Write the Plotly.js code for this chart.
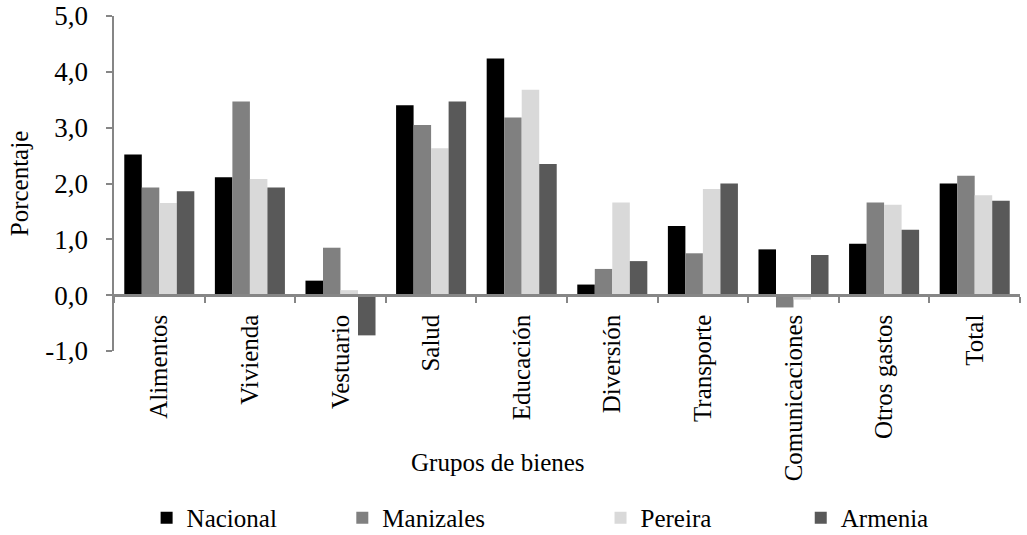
<!DOCTYPE html>
<html>
<head>
<meta charset="utf-8">
<script src="https://cdn.plot.ly/plotly-3.0.1.min.js"></script>
<style>html,body{margin:0;padding:0;background:#fff;}#chart{width:1027px;height:535px;}</style>
</head>
<body>
<div id="chart"></div>
<script>
const categories = ["Alimentos", "Vivienda", "Vestuario", "Salud", "Educación", "Diversión", "Transporte", "Comunicaciones", "Otros gastos", "Total"];
const nacional   = [2.52, 2.11, 0.26, 3.40, 4.24, 0.19, 1.24, 0.82, 0.92, 2.00];
const manizales  = [1.93, 3.47, 0.85, 3.05, 3.18, 0.47, 0.75, -0.22, 1.66, 2.14];
const pereira    = [1.65, 2.08, 0.09, 2.63, 3.68, 1.66, 1.90, -0.08, 1.62, 1.79];
const armenia    = [1.86, 1.93, -0.72, 3.47, 2.35, 0.61, 2.00, 0.72, 1.17, 1.69];
const seriesNames = ["Nacional", "Manizales", "Pereira", "Armenia"];
const yTickValues = [-1, 0, 1, 2, 3, 4, 5];
const yTickLabels = ["-1,0", "0,0", "1,0", "2,0", "3,0", "4,0", "5,0"];

const FONT = "Liberation Serif, Times New Roman, serif";
const colors = ["#000000", "#808080", "#d9d9d9", "#595959"];
const seriesValues = [nacional, manizales, pereira, armenia];
const legendIds = ["legend", "legend2", "legend3", "legend4"];
const legendX = [0.036, 0.252, 0.537, 0.758];

const traces = seriesValues.map((vals, i) => ({
  type: "bar",
  name: seriesNames[i],
  x: categories,
  y: vals,
  marker: {color: colors[i], line: {width: 0}},
  legend: legendIds[i],
  hoverinfo: "x+y+name"
}));

const layout = {
  width: 1027,
  height: 535,
  margin: {l: 114, r: 7, t: 16, b: 184, autoexpand: false},
  paper_bgcolor: "#ffffff",
  plot_bgcolor: "#ffffff",
  font: {family: FONT, color: "#000000", size: 24},
  barmode: "group",
  bargap: 0.227,
  bargroupgap: 0,
  xaxis: {
    type: "category",
    anchor: "free",
    position: 1/6,
    showline: true,
    linecolor: "#868686",
    linewidth: 2.5,
    ticks: "outside",
    tickson: "boundaries",
    ticklen: 6,
    tickwidth: 2,
    tickcolor: "#868686",
    tickangle: -90,
    tickfont: {family: FONT, size: 25, color: "#000000"},
    ticklabelstandoff: 8,
    showgrid: false,
    zeroline: false,
    automargin: false
  },
  yaxis: {
    range: [-1, 5],
    domain: [0, 1],
    tickvals: yTickValues,
    ticktext: yTickLabels,
    showline: true,
    linecolor: "#868686",
    linewidth: 2.5,
    ticks: "outside",
    ticklen: 6,
    tickwidth: 2,
    tickcolor: "#868686",
    tickfont: {family: FONT, size: 27, color: "#000000"},
    ticklabelstandoff: 12,
    showgrid: false,
    zeroline: false,
    automargin: false,
    title: {text: "Porcentaje", font: {family: FONT, size: 25, color: "#000000"}, standoff: 10}
  },
  annotations: [{
    text: "Grupos de bienes",
    xref: "paper", yref: "paper",
    x: 0.4233, y: -0.334,
    xanchor: "center", yanchor: "middle",
    showarrow: false,
    font: {family: FONT, size: 25, color: "#000000"}
  }],
  showlegend: true
};

legendIds.forEach((id, i) => {
  layout[id] = {
    orientation: "h",
    x: legendX[i],
    xanchor: "left",
    y: -0.4985,
    yanchor: "middle",
    bgcolor: "rgba(0,0,0,0)",
    borderwidth: 0,
    font: {family: FONT, size: 25, color: "#000000"}
  };
});

Plotly.newPlot("chart", traces, layout, {displayModeBar: false, staticPlot: true});
</script>
</body>
</html>
